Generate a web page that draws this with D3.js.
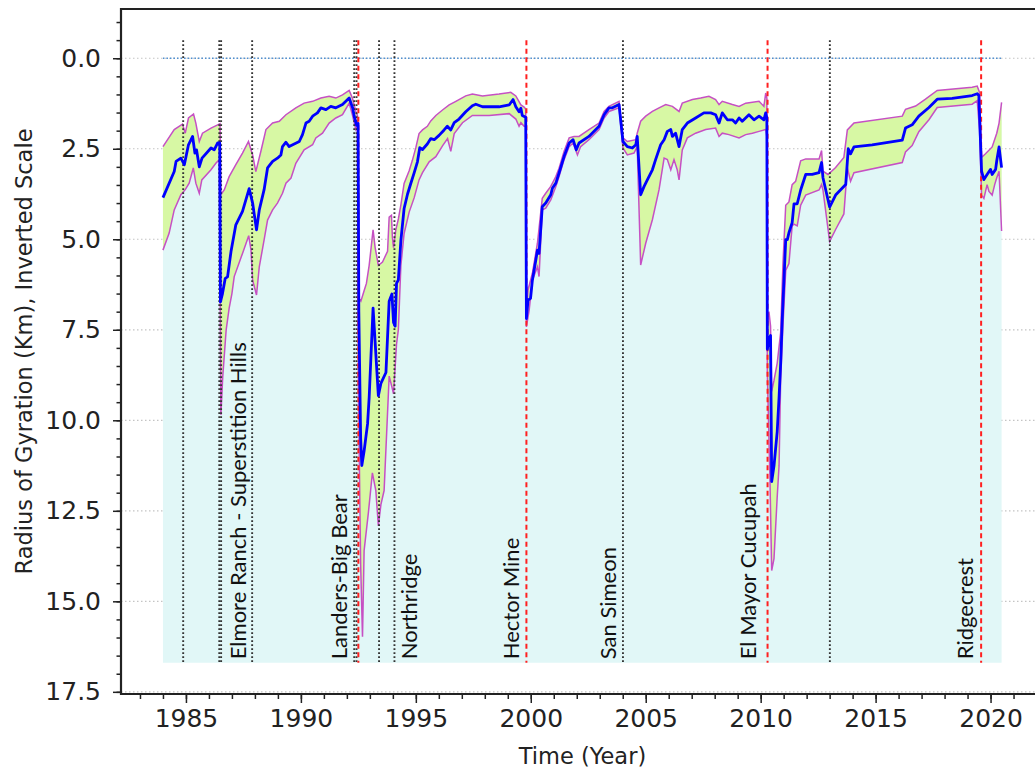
<!DOCTYPE html>
<html>
<head>
<meta charset="utf-8">
<script src="https://cdn.jsdelivr.net/npm/d3@7"></script>
<style>
  body { margin: 0; background: #fff; }
  svg { display: block; }
</style>
</head>
<body>
<svg id="chart" width="1035" height="772"></svg>
<script>
// Radius of gyration, centre estimate [year, km]
const center = [
  [1984.0,3.85],[1984.49,3.13],[1984.57,2.85],[1984.78,2.76],[1984.93,2.94],[1985.11,2.39],[1985.29,2.16],
  [1985.39,2.62],[1985.46,2.53],[1985.58,3.0],[1985.70,2.76],[1986.09,2.48],[1986.23,2.53],[1986.38,2.34],
  [1986.47,2.34],[1986.5,6.73],[1986.59,6.5],[1986.71,6.08],[1986.81,6.04],[1986.96,5.34],[1987.17,4.6],
  [1987.46,4.23],[1987.75,3.6],[1987.9,4.0],[1988.07,4.74],[1988.19,4.19],[1988.4,3.63],[1988.55,3.03],
  [1988.77,2.85],[1988.98,2.76],[1989.13,2.67],[1989.2,2.44],[1989.35,2.32],[1989.49,2.44],[1989.93,2.3],
  [1990.07,2.11],[1990.22,1.79],[1990.36,1.74],[1990.51,1.6],[1990.72,1.51],[1990.87,1.37],[1991.09,1.42],
  [1991.3,1.33],[1991.52,1.37],[1991.81,1.28],[1992.1,1.1],[1992.25,1.37],[1992.32,1.6],[1992.42,1.85],
  [1992.49,1.8],[1992.52,7.0],[1992.6,10.5],[1992.65,11.25],[1992.75,10.85],[1992.9,10.1],[1992.97,9.37],
  [1993.14,6.9],[1993.37,9.32],[1993.48,8.98],[1993.7,8.68],[1993.84,6.71],[1993.96,6.51],[1994.03,7.3],
  [1994.1,7.4],[1994.16,6.22],[1994.24,6.12],[1994.35,5.03],[1994.49,4.15],[1994.64,3.75],[1994.78,3.46],
  [1994.93,3.16],[1995.07,2.86],[1995.17,2.47],[1995.29,2.52],[1995.5,2.37],[1995.65,2.22],[1995.8,2.25],
  [1996.01,2.13],[1996.23,1.98],[1996.37,1.88],[1996.52,1.98],[1996.67,1.78],[1996.88,1.68],[1997.17,1.48],
  [1997.46,1.31],[1997.61,1.27],[1997.9,1.34],[1998.62,1.34],[1999.06,1.29],[1999.23,1.14],[1999.35,1.34],
  [1999.49,1.48],[1999.57,1.38],[1999.63,1.58],[1999.78,1.63],[1999.81,7.19],[1999.88,6.68],[1999.99,6.63],
  [2000.07,6.13],[2000.22,5.57],[2000.29,5.3],[2000.36,5.39],[2000.5,4.1],[2000.65,4.0],[2000.87,3.77],
  [2000.94,3.59],[2001.09,3.45],[2001.23,3.17],[2001.45,2.71],[2001.67,2.34],[2001.84,2.25],[2001.98,2.53],
  [2002.1,2.34],[2002.53,2.16],[2002.97,1.88],[2003.19,1.56],[2003.4,1.37],[2003.55,1.37],[2003.84,1.28],
  [2004.01,2.3],[2004.2,2.44],[2004.42,2.48],[2004.57,2.39],[2004.63,2.16],[2004.78,3.77],[2004.93,3.54],
  [2005.07,3.36],[2005.29,3.08],[2005.43,2.8],[2005.65,2.39],[2005.8,2.25],[2005.94,2.02],[2006.09,1.97],
  [2006.16,2.16],[2006.3,2.07],[2006.45,2.44],[2006.59,1.97],[2006.81,1.79],[2007.17,1.65],[2007.53,1.51],
  [2007.83,1.51],[2008.04,1.56],[2008.19,1.79],[2008.33,1.51],[2008.55,1.7],[2008.77,1.7],[2008.91,1.79],
  [2009.06,1.65],[2009.2,1.74],[2009.49,1.56],[2009.71,1.7],[2009.93,1.6],[2010.14,1.7],[2010.22,1.51],
  [2010.27,1.65],[2010.29,8.04],[2010.36,7.76],[2010.43,7.66],[2010.48,11.69],[2010.58,11.26],[2010.72,10.31],
  [2010.8,9.37],[2010.87,8.42],[2010.94,7.19],[2011.09,5.01],[2011.16,5.01],[2011.23,4.82],[2011.37,4.54],
  [2011.45,4.02],[2011.59,4.02],[2011.74,3.64],[2011.96,3.21],[2012.24,3.21],[2012.54,3.16],[2012.65,2.88],
  [2012.71,3.3],[2013.0,4.11],[2013.26,3.78],[2013.7,3.49],[2013.81,2.5],[2013.91,2.64],[2014.06,2.45],
  [2014.85,2.39],[2016.16,2.26],[2016.3,1.93],[2016.59,1.84],[2016.88,1.6],[2017.32,1.36],[2017.68,1.13],
  [2018.33,1.11],[2019.2,1.03],[2019.42,0.98],[2019.49,1.03],[2019.61,3.12],[2019.71,3.35],[2019.85,3.21],
  [2020.0,3.07],[2020.07,3.21],[2020.22,3.07],[2020.27,2.83],[2020.37,2.45],[2020.48,3.02]
];

// upper edge of the band (smaller radius)
const upper = [
  [1984.0,2.44],[1984.49,1.97],[1984.85,1.82],[1984.97,2.07],[1985.11,1.65],[1985.33,1.54],[1985.43,1.79],
  [1985.58,2.3],[1985.72,2.07],[1986.09,1.93],[1986.38,1.84],[1986.48,1.81],[1986.52,3.77],[1986.67,3.63],
  [1986.88,3.27],[1987.17,2.94],[1987.46,2.62],[1987.72,2.3],[1987.9,2.67],[1988.04,3.13],[1988.26,2.57],
  [1988.48,1.97],[1988.77,1.79],[1989.06,1.74],[1989.35,1.56],[1989.78,1.37],[1990.14,1.24],[1990.51,1.19],
  [1990.87,1.1],[1991.23,1.05],[1991.52,1.1],[1991.81,1.01],[1992.1,0.89],[1992.24,1.1],[1992.39,1.47],
  [1992.46,1.58],[1992.5,6.61],[1992.61,6.71],[1992.75,6.42],[1992.85,6.22],[1992.97,5.72],[1993.14,4.74],
  [1993.23,5.23],[1993.37,5.72],[1993.55,5.63],[1993.77,5.33],[1993.84,4.39],[1993.94,4.34],[1993.98,4.94],
  [1994.03,5.23],[1994.13,4.74],[1994.24,4.44],[1994.35,4.05],[1994.49,3.46],[1994.71,3.11],[1994.85,2.82],
  [1995.0,2.47],[1995.14,2.08],[1995.29,1.98],[1995.5,1.88],[1995.65,1.73],[1995.87,1.58],[1996.16,1.43],
  [1996.45,1.29],[1996.74,1.19],[1997.17,1.04],[1997.46,0.99],[1997.9,1.04],[1998.62,0.99],[1999.13,0.94],
  [1999.35,1.04],[1999.57,1.29],[1999.71,1.35],[1999.78,1.4],[1999.81,6.96],[1999.88,6.4],[2000.07,5.94],
  [2000.29,5.11],[2000.5,3.87],[2000.65,3.73],[2000.87,3.54],[2001.09,3.27],[2001.23,3.04],[2001.45,2.57],
  [2001.67,2.2],[2001.88,2.16],[2002.1,2.16],[2002.53,1.97],[2002.97,1.79],[2003.19,1.47],[2003.4,1.33],
  [2003.84,1.19],[2004.01,2.2],[2004.2,2.3],[2004.57,2.25],[2004.63,2.07],[2004.78,1.74],[2005.0,1.6],
  [2005.29,1.47],[2005.58,1.37],[2005.87,1.28],[2006.16,1.33],[2006.45,1.47],[2006.59,1.24],[2007.03,1.14],
  [2007.39,1.1],[2007.75,1.05],[2008.04,1.14],[2008.19,1.28],[2008.33,1.19],[2008.77,1.28],[2009.06,1.33],
  [2009.35,1.24],[2009.93,1.19],[2010.14,1.33],[2010.22,0.96],[2010.27,1.1],[2010.29,7.4],[2010.36,7.0],
  [2010.43,7.4],[2010.48,9.2],[2010.58,8.9],[2010.72,8.42],[2010.87,7.57],[2010.97,5.67],[2011.09,4.06],
  [2011.23,3.97],[2011.37,3.49],[2011.52,3.4],[2011.74,2.83],[2011.96,2.78],[2012.54,2.78],[2012.65,2.55],
  [2012.71,3.12],[2012.93,3.21],[2013.26,3.02],[2013.62,2.74],[2013.77,1.98],[2014.06,1.79],[2016.16,1.6],
  [2016.3,1.41],[2016.74,1.32],[2017.17,1.13],[2017.68,0.89],[2019.2,0.8],[2019.42,0.77],[2019.52,0.94],
  [2019.61,2.74],[2019.78,2.64],[2020.07,2.45],[2020.27,2.07],[2020.37,1.79],[2020.48,1.22]
];

// lower edge of the band (larger radius)
const lower = [
  [1984.0,5.3],[1984.27,4.83],[1984.49,4.19],[1984.78,3.77],[1984.97,3.63],[1985.14,3.45],[1985.32,3.03],
  [1985.43,3.45],[1985.58,3.73],[1985.69,3.36],[1986.09,3.08],[1986.3,2.9],[1986.45,2.8],[1986.52,9.85],
  [1986.6,8.8],[1986.75,7.5],[1986.88,6.9],[1987.0,6.5],[1987.1,6.03],[1987.46,5.39],[1987.73,4.9],
  [1987.83,5.3],[1987.9,6.13],[1988.07,6.54],[1988.19,5.76],[1988.4,5.02],[1988.55,4.47],[1988.77,4.19],
  [1988.98,4.0],[1989.2,3.73],[1989.35,3.45],[1989.57,3.31],[1989.78,2.9],[1990.14,2.53],[1990.51,2.39],
  [1990.65,2.2],[1990.94,2.07],[1991.23,1.79],[1991.52,1.65],[1991.81,1.56],[1992.1,1.24],[1992.24,1.56],
  [1992.39,1.97],[1992.46,1.88],[1992.5,9.0],[1992.6,14.0],[1992.68,15.98],[1992.75,13.6],[1992.94,12.53],
  [1993.11,11.45],[1993.26,11.94],[1993.37,12.92],[1993.48,12.33],[1993.62,11.94],[1993.84,8.78],
  [1993.96,9.08],[1994.03,9.27],[1994.16,7.9],[1994.24,7.5],[1994.35,5.72],[1994.49,4.84],[1994.71,4.25],
  [1994.93,3.85],[1995.14,3.36],[1995.29,3.16],[1995.58,2.86],[1995.87,2.72],[1996.16,2.42],[1996.38,2.22],
  [1996.52,2.57],[1996.67,2.08],[1997.03,1.78],[1997.46,1.58],[1998.19,1.58],[1999.06,1.53],[1999.35,1.68],
  [1999.49,1.88],[1999.57,1.78],[1999.71,1.88],[1999.78,1.88],[1999.81,7.42],[1999.93,6.96],[2000.07,6.13],
  [2000.29,5.76],[2000.36,6.03],[2000.5,4.19],[2000.65,4.14],[2000.87,3.91],[2001.09,3.54],[2001.23,3.27],
  [2001.45,2.8],[2001.67,2.44],[2001.84,2.34],[2002.03,2.67],[2002.17,2.44],[2002.53,2.25],[2002.97,1.97],
  [2003.19,1.65],[2003.4,1.47],[2003.84,1.37],[2004.01,2.48],[2004.2,2.67],[2004.49,2.62],[2004.63,2.44],
  [2004.78,5.71],[2005.0,5.11],[2005.29,4.46],[2005.58,3.63],[2005.8,2.76],[2005.94,2.8],[2006.09,3.08],
  [2006.23,2.8],[2006.37,3.08],[2006.45,3.36],[2006.59,2.53],[2006.81,2.2],[2007.17,2.07],[2007.61,1.97],
  [2008.04,1.93],[2008.19,2.16],[2008.33,2.07],[2008.62,2.11],[2009.06,2.2],[2009.35,2.11],[2009.64,2.07],
  [2009.93,2.02],[2010.22,1.97],[2010.27,2.17],[2010.29,8.7],[2010.4,11.5],[2010.48,14.15],[2010.58,13.82],
  [2010.72,12.11],[2010.8,11.26],[2010.87,8.89],[2010.97,7.38],[2011.09,5.86],[2011.23,5.67],[2011.37,4.63],
  [2011.45,4.58],[2011.59,4.63],[2011.74,4.06],[2011.96,3.78],[2012.54,3.64],[2012.65,3.49],[2012.71,3.64],
  [2013.0,5.06],[2013.26,4.73],[2013.62,4.3],[2013.77,3.02],[2013.91,3.4],[2014.06,3.16],[2016.16,2.88],
  [2016.3,2.59],[2016.59,2.41],[2016.88,2.03],[2017.32,1.7],[2017.68,1.36],[2019.2,1.27],[2019.42,1.17],
  [2019.52,1.98],[2019.61,3.78],[2019.71,3.87],[2019.85,3.49],[2019.93,3.68],[2020.07,3.78],[2020.18,3.49],
  [2020.27,3.3],[2020.37,3.12],[2020.48,4.77]
];

// events: minor (dotted black) and major (dashed red)
const minorEvents = [1984.88, 1986.45, 1986.53, 1987.88, 1992.32, 1992.42, 1993.4, 1994.07, 2004.01, 2013.01];
const majorEvents = [1992.5, 1999.81, 2010.3, 2019.59];

const labelNames = ['Elmore Ranch - Superstition Hills', 'Landers-Big Bear', 'Northridge', 'Hector Mine',
                    'San Simeon', 'El Mayor Cucupah', 'Ridgecrest'];
const labelYears = [1987.62, 1992.0, 1995.05, 1999.5, 2003.72, 2009.8, 2019.25];

const xMajorTicks = [1985, 1990, 1995, 2000, 2005, 2010, 2015, 2020];
const yMajorTicks = [0, 2.5, 5, 7.5, 10, 12.5, 15, 17.5];

const svg = d3.select('#chart');

const x = d3.scaleLinear().domain([1982.175, 2022.325]).range([121, 1044]);
const y = d3.scaleLinear().domain([-1.36, 17.56]).range([9, 694]);

const floorVal = 16.7;   // bottom of the filled region / event lines
const topVal = -0.5;     // top of the event lines

// horizontal grid
svg.append('g').selectAll('line')
  .data(yMajorTicks)
  .enter().append('line')
  .attr('x1', x.range()[0]).attr('x2', x.range()[1])
  .attr('y1', d => y(d)).attr('y2', d => y(d))
  .attr('stroke', '#c4c4c4').attr('stroke-width', 1.2)
  .attr('stroke-dasharray', '1.5,2.5');

// cyan area under the band
const cyanArea = d3.area()
  .x(d => x(d[0]))
  .y0(() => y(floorVal))
  .y1(d => y(d[1]));
svg.append('path')
  .datum(upper)
  .attr('d', cyanArea)
  .attr('fill', '#e1f7f7');

// green band between upper and lower
const lineGen = d3.line().x(d => x(d[0])).y(d => y(d[1]));
const bandPts = upper.concat(lower.slice().reverse());
svg.append('path')
  .attr('d', lineGen(bandPts) + 'Z')
  .attr('fill', '#d7f8a4');

// band outlines
[upper, lower].forEach(s => {
  svg.append('path')
    .datum(s)
    .attr('d', lineGen)
    .attr('fill', 'none')
    .attr('stroke', '#c650c4')
    .attr('stroke-width', 1.5);
});

// zero reference
svg.append('line')
  .attr('x1', x(1984)).attr('x2', x(2020.48))
  .attr('y1', y(0)).attr('y2', y(0))
  .attr('stroke', '#4f8fd0').attr('stroke-width', 1.3)
  .attr('stroke-dasharray', '1.5,2');

// event lines
svg.append('g').selectAll('line')
  .data(minorEvents)
  .enter().append('line')
  .attr('x1', d => x(d)).attr('x2', d => x(d))
  .attr('y1', y(topVal)).attr('y2', y(floorVal))
  .attr('stroke', '#333').attr('stroke-width', 1.9)
  .attr('stroke-dasharray', '1.8,2.2');

svg.append('g').selectAll('line')
  .data(majorEvents)
  .enter().append('line')
  .attr('x1', d => x(d)).attr('x2', d => x(d))
  .attr('y1', y(topVal)).attr('y2', y(floorVal))
  .attr('stroke', '#ff2020').attr('stroke-width', 2)
  .attr('stroke-dasharray', '5,3.5');

// centre line
svg.append('path')
  .datum(center)
  .attr('d', lineGen)
  .attr('fill', 'none')
  .attr('stroke', '#0000ff')
  .attr('stroke-width', 2.8)
  .attr('stroke-linejoin', 'round');

// event labels
svg.append('g').selectAll('text')
  .data(labelNames)
  .enter().append('text')
  .attr('transform', (d, i) => `translate(${x(labelYears[i])},${y(16.6)}) rotate(-90)`)
  .attr('font-family', 'Lato, "Open Sans", sans-serif')
  .attr('font-size', 22)
  .attr('fill', '#111')
  .text(d => d);

// axes
const axisFont = 'DejaVu Sans, sans-serif';
const xAxis = svg.append('g')
  .attr('transform', `translate(0,${y.range()[1]})`)
  .call(d3.axisBottom(x).tickValues(xMajorTicks).tickFormat(d3.format('d')).tickSize(9).tickPadding(6));
const xMinor = svg.append('g')
  .attr('transform', `translate(0,${y.range()[1]})`)
  .call(d3.axisBottom(x).tickValues(d3.range(1983, 2023)).tickFormat('').tickSize(5));

const yAxis = svg.append('g')
  .attr('transform', `translate(${x.range()[0]},0)`)
  .call(d3.axisLeft(y).tickValues(yMajorTicks).tickFormat(d3.format('.1f')).tickSize(8).tickPadding(12));
const yMinor = svg.append('g')
  .attr('transform', `translate(${x.range()[0]},0)`)
  .call(d3.axisLeft(y).tickValues(d3.range(-1, 17.6, 0.5)).tickFormat('').tickSize(4.5));

[xAxis, xMinor, yAxis, yMinor].forEach(g => {
  g.select('.domain').remove();
  g.selectAll('line').attr('stroke', '#222').attr('stroke-width', 1.5);
  g.selectAll('text').attr('font-family', axisFont).attr('font-size', 25).attr('fill', '#222');
});

// frame (left, top, bottom; right edge falls outside the picture)
svg.append('path')
  .attr('d', `M${x.range()[1]},${y.range()[0]}H${x.range()[0]}V${y.range()[1]}H${x.range()[1]}`)
  .attr('fill', 'none').attr('stroke', '#222').attr('stroke-width', 2.2);

// axis titles
svg.append('text')
  .attr('x', (x.range()[0] + x.range()[1]) / 2)
  .attr('y', 764)
  .attr('text-anchor', 'middle')
  .attr('font-family', axisFont).attr('font-size', 22.5).attr('fill', '#222')
  .text('Time (Year)');

svg.append('text')
  .attr('transform', `translate(32,${(y.range()[0] + y.range()[1]) / 2}) rotate(-90)`)
  .attr('text-anchor', 'middle')
  .attr('font-family', axisFont).attr('font-size', 22.5).attr('fill', '#222')
  .text('Radius of Gyration (Km), Inverted Scale');
</script>
</body>
</html>
